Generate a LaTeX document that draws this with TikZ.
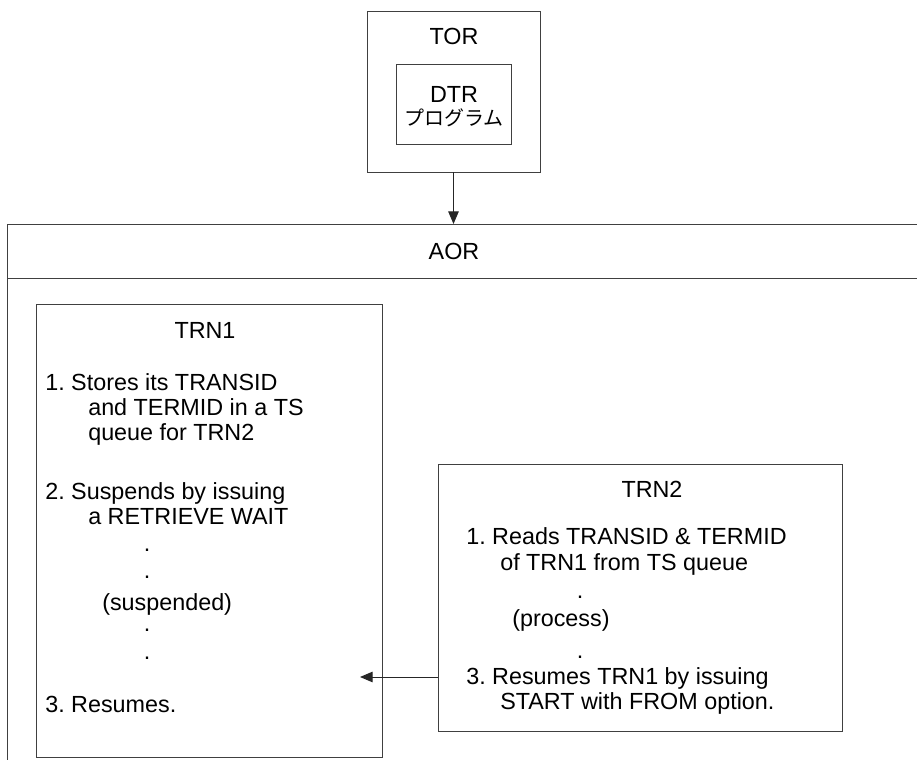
\documentclass[tikz,border=0pt]{standalone}
\usepackage{fontspec}
\setmainfont{Liberation Sans}
\newfontfamily\jpfont{Noto Sans CJK JP}
\usetikzlibrary{arrows.meta,fit}

\tikzset{
  frame/.style={draw=black!75, line width=0.7pt, inner sep=0pt},
  txt/.style={anchor=base west, inner sep=0pt},
  ctxt/.style={anchor=base, inner sep=0pt},
  link/.style={draw=black!85, line width=0.7pt, -{Triangle[length=9pt,width=7.5pt]}}
}

\begin{document}
\frenchspacing
\begin{tikzpicture}[x=0.025cm, y=-0.025cm, font=\fontsize{16.6}{19}\selectfont]
  \useasboundingbox (0,0) rectangle (917,781);

  % TOR region with the DTR program
  \node[frame, fit={(367,11) (540,172)}] (tor) {};
  \node[ctxt] (torlabel) at (454,45) {TOR};
  \node[frame, fit={(396,64) (511,144)}] (dtr) {};
  \node[ctxt] (dtrlabel) at (454,103) {DTR};
  \node[ctxt, font=\jpfont\fontsize{14.2}{17}\selectfont] (dtrprog) at (454,126) {プログラム};

  % AOR region
  \draw[frame] (917,224) -- (7,224) -- (7,760);
  \draw[frame] (7,278) -- (917,278);
  \node[ctxt] (aorlabel) at (454,260) {AOR};
  \coordinate (aortop) at (tor.south |- 0,224);
  \draw[link] (tor.south) -- (aortop);

  % TRN1
  \node[frame, fit={(36,304) (382,757)}] (trnA) {};
  \node[ctxt] (trnAlabel) at (205,339) {TRN1};
  \node[txt] (a1) at (45,391) {1. Stores its TRANSID};
  \node[txt] (a2) at (88,416) {and TERMID in a TS};
  \node[txt] (a3) at (88,441) {queue for TRN2};
  \node[txt] (a4) at (45,499) {2. Suspends by issuing};
  \node[txt] (a5) at (88,524) {a RETRIEVE WAIT};
  \node[ctxt] (a6) at (147,552) {.};
  \node[ctxt] (a7) at (147,578) {.};
  \node[txt] (a8) at (102,610) {(suspended)};
  \node[ctxt] (a9) at (147,631) {.};
  \node[ctxt] (a10) at (147,659) {.};
  \node[txt] (a11) at (45,712) {3. Resumes.};

  % TRN2
  \node[frame, fit={(438,464) (842,731)}] (trnB) {};
  \node[ctxt] (trnBlabel) at (652,497) {TRN2};
  \node[txt] (b1) at (466,544) {1. Reads TRANSID \& TERMID};
  \node[txt] (b2) at (500,570) {of TRN1 from TS queue};
  \node[ctxt] (b3) at (580,598) {.};
  \node[txt] (b4) at (512,626) {(process)};
  \node[ctxt] (b5) at (580,658) {.};
  \node[txt] (b6) at (466,684) {3. Resumes TRN1 by issuing};
  \node[txt] (b7) at (500,709) {START with FROM option.};

  % resume TRN1 from TRN2
  \coordinate (resumetip) at (360,677);
  \draw[link] (trnB.west |- resumetip) -- (resumetip);
\end{tikzpicture}
\end{document}
